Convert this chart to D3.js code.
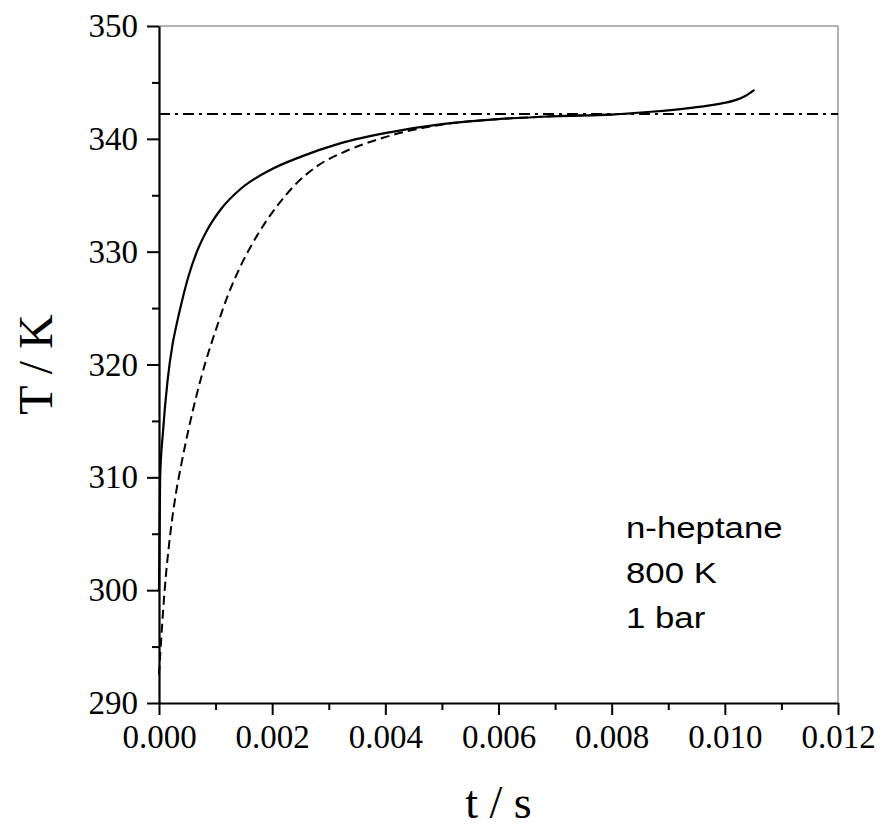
<!DOCTYPE html>
<html>
<head>
<meta charset="utf-8">
<script src="https://cdn.jsdelivr.net/npm/d3@7"></script>
<style>
  body { margin: 0; background: #fff; }
  svg { display: block; }
</style>
</head>
<body>
<div class="chart"></div>
<script>
// Solid curve (t in s, T in K)
const solidT = [0, 0.00002, 0.00007, 0.00015, 0.00024, 0.0003, 0.0004, 0.00052, 0.00067, 0.00085,
    0.0011, 0.00145, 0.00195, 0.0025, 0.0032, 0.0041, 0.005, 0.006, 0.007, 0.008,
    0.0087, 0.0094, 0.0099, 0.0102, 0.01036, 0.01051];
const solidK = [300, 310, 314, 318.5, 321.8, 323.3, 325.5, 327.8, 330.0, 331.9,
    333.8, 335.6, 337.2, 338.4, 339.6, 340.6, 341.3, 341.75, 342.0, 342.15,
    342.4, 342.75, 343.1, 343.45, 343.8, 344.3];

// Dashed curve
const dashedT = [0, 0.00005, 0.0001, 0.0002, 0.0003, 0.0004, 0.00052, 0.00066, 0.00081, 0.001,
    0.0012, 0.00143, 0.00173, 0.00208, 0.0024, 0.0028, 0.0033, 0.0039, 0.0045, 0.0052,
    0.006, 0.007, 0.008];
const dashedK = [292.5, 296.5, 300, 305, 308.6, 311.3, 314.2, 317.2, 320.0, 323.0,
    325.9, 328.6, 331.4, 334.0, 335.9, 337.6, 338.9, 340.0, 340.8, 341.4,
    341.75, 342.0, 342.15];

// Dash-dot reference level
const refLevel = 342.2;

const xTicks = [0, 0.002, 0.004, 0.006, 0.008, 0.010, 0.012];
const xMinor = [0.001, 0.003, 0.005, 0.007, 0.009, 0.011];
const yTicks = [290, 300, 310, 320, 330, 340, 350];
const yMinor = [295, 305, 315, 325, 335, 345];
const notes = ["n-heptane", "800 K", "1 bar"];

const serif = "'Liberation Serif', 'Times New Roman', serif";

const margin = { top: 26, right: 46, bottom: 126, left: 159 };
const width = 884 - margin.left - margin.right;
const height = 829 - margin.top - margin.bottom;

const svg = d3.select(".chart").append("svg")
    .attr("width", 884)
    .attr("height", 829)
    .append("g")
    .attr("transform", `translate(${margin.left},${margin.top})`);

const x = d3.scaleLinear().domain([0, 0.012]).range([0, width]);
const y = d3.scaleLinear().domain([290, 350]).range([height, 0]);

// frame top/right (thin grey)
svg.append("line").attr("x1", 0).attr("x2", width).attr("y1", 0).attr("y2", 0)
    .attr("stroke", "#666").attr("stroke-width", 1);
svg.append("line").attr("x1", width).attr("x2", width).attr("y1", 0).attr("y2", height)
    .attr("stroke", "#666").attr("stroke-width", 1);

// minor ticks
svg.append("g")
    .attr("transform", `translate(0,${height})`)
    .call(d3.axisBottom(x).tickValues(xMinor).tickSize(7).tickFormat(""))
    .call(g => g.select(".domain").remove())
    .call(g => g.selectAll("line").attr("stroke-width", 2));

svg.append("g")
    .call(d3.axisLeft(y).tickValues(yMinor).tickSize(7).tickFormat(""))
    .call(g => g.select(".domain").remove())
    .call(g => g.selectAll("line").attr("stroke-width", 2));

// major axes
svg.append("g")
    .attr("transform", `translate(0,${height})`)
    .call(d3.axisBottom(x).tickValues(xTicks).tickSize(12).tickSizeOuter(0).tickPadding(10)
        .tickFormat(d3.format(".3f")))
    .attr("font-family", serif)
    .call(g => g.select(".domain").attr("stroke-width", 2.2))
    .call(g => g.selectAll("line").attr("stroke-width", 2))
    .call(g => g.selectAll("text")
        .style("font-family", serif).style("font-size", "33px").attr("fill", "#000"));

svg.append("g")
    .call(d3.axisLeft(y).tickValues(yTicks).tickSize(12).tickSizeOuter(0).tickPadding(9))
    .attr("font-family", serif)
    .call(g => g.select(".domain").attr("stroke-width", 2.2))
    .call(g => g.selectAll("line").attr("stroke-width", 2))
    .call(g => g.selectAll("text")
        .style("font-family", serif).style("font-size", "33px").attr("fill", "#000"));

// reference line
svg.append("line")
    .attr("x1", x(0)).attr("x2", x(0.012))
    .attr("y1", y(refLevel)).attr("y2", y(refLevel))
    .attr("stroke", "#000").attr("stroke-width", 1.8)
    .attr("stroke-dasharray", "11,5,3,5");

const line = d3.line()
    .x(d => x(d[0]))
    .y(d => y(d[1]))
    .curve(d3.curveMonotoneX);

svg.append("path")
    .datum(dashedT.map((t, i) => [t, dashedK[i]]))
    .attr("fill", "none")
    .attr("stroke", "#000")
    .attr("stroke-width", 2)
    .attr("stroke-dasharray", "9,5")
    .attr("d", line);

svg.append("path")
    .datum(solidT.map((t, i) => [t, solidK[i]]))
    .attr("fill", "none")
    .attr("stroke", "#000")
    .attr("stroke-width", 2.2)
    .attr("stroke-linecap", "round")
    .attr("d", line);

// annotation
const note = svg.append("g")
    .attr("transform", `translate(${626 - margin.left},0) scale(1.16,1)`);
note.selectAll("text")
    .data(notes)
    .enter().append("text")
    .attr("x", 0)
    .attr("y", (d, i) => 538 - margin.top + i * 45)
    .style("font-family", "'Liberation Sans', Arial, sans-serif")
    .style("font-size", "30px")
    .text(d => d);

// axis titles
svg.append("text")
    .attr("transform", "rotate(-90)")
    .attr("x", -height / 2)
    .attr("y", -margin.left + 52)
    .attr("text-anchor", "middle")
    .style("font-family", serif)
    .style("font-size", "48px")
    .text("T / K");

svg.append("text")
    .attr("x", width / 2)
    .attr("y", 818 - margin.top)
    .attr("text-anchor", "middle")
    .style("font-family", serif)
    .style("font-size", "46px")
    .text("t / s");
</script>
</body>
</html>
